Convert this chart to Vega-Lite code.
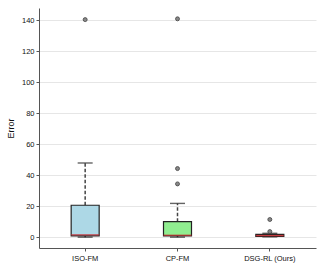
{
  "$schema": "https://vega.github.io/schema/vega-lite/v6.json",
  "autosize": {"type": "none"},
  "width": 277,
  "height": 240,
  "padding": {"left": 39, "top": 8, "right": 8, "bottom": 22},
  "background": "white",
  "config": {
    "view": {"stroke": null},
    "font": "Liberation Sans",
    "axis": {
      "labelFont": "Liberation Sans",
      "titleFont": "Liberation Sans",
      "labelFontSize": 7.5,
      "labelColor": "#111",
      "domainColor": "#555",
      "tickColor": "#555",
      "tickSize": 3,
      "labelPadding": 2,
      "gridColor": "#e6e6e6",
      "titleFontWeight": "normal",
      "titleFontSize": 9,
      "titleColor": "#111"
    }
  },
  "datasets": {
    "summary": [
      {"group": "ISO-FM", "lower": 0, "q1": 0.8, "median": 1.5, "q3": 20.6, "upper": 47.9},
      {"group": "CP-FM", "lower": 0, "q1": 0.8, "median": 1.2, "q3": 10.0, "upper": 21.8},
      {"group": "DSG-RL (Ours)", "lower": 0.2, "q1": 0.5, "median": 1.0, "q3": 1.8, "upper": 2.5}
    ],
    "outliers": [
      {"group": "ISO-FM", "value": 140.5},
      {"group": "CP-FM", "value": 141},
      {"group": "CP-FM", "value": 44.3},
      {"group": "CP-FM", "value": 34.4},
      {"group": "DSG-RL (Ours)", "value": 11.4},
      {"group": "DSG-RL (Ours)", "value": 3.6}
    ]
  },
  "encoding": {
    "x": {
      "field": "group",
      "type": "nominal",
      "sort": ["ISO-FM", "CP-FM", "DSG-RL (Ours)"],
      "scale": {"domain": ["ISO-FM", "CP-FM", "DSG-RL (Ours)"], "paddingInner": 0, "paddingOuter": 0},
      "axis": {"title": null, "labelAngle": 0, "grid": false, "labelPadding": 3}
    }
  },
  "layer": [
    {
      "data": {"name": "summary"},
      "mark": {"type": "rule", "strokeDash": [3.5, 2], "strokeWidth": 1.5, "color": "#444"},
      "encoding": {
        "y": {"field": "q3", "type": "quantitative", "scale": {"domain": [-7, 148], "nice": false, "zero": false},
              "axis": {"title": "Error", "values": [0, 20, 40, 60, 80, 100, 120, 140], "grid": true, "titlePadding": 6, "labelOverlap": false}},
        "y2": {"field": "upper"}
      }
    },
    {
      "data": {"name": "summary"},
      "mark": {"type": "rule", "strokeDash": [3.5, 2], "strokeWidth": 1.5, "color": "#444"},
      "encoding": {
        "y": {"field": "lower", "type": "quantitative", "scale": {"domain": [-7, 148], "nice": false, "zero": false},
              "axis": {"title": "Error", "values": [0, 20, 40, 60, 80, 100, 120, 140], "grid": true, "titlePadding": 6, "labelOverlap": false}},
        "y2": {"field": "q1"}
      }
    },
    {
      "data": {"name": "summary"},
      "mark": {"type": "tick", "size": 15, "thickness": 1.4, "color": "#222"},
      "encoding": {"y": {"field": "upper", "type": "quantitative", "scale": {"domain": [-7, 148], "nice": false, "zero": false},
              "axis": {"title": "Error", "values": [0, 20, 40, 60, 80, 100, 120, 140], "grid": true, "titlePadding": 6, "labelOverlap": false}}}
    },
    {
      "data": {"name": "summary"},
      "mark": {"type": "tick", "size": 15, "thickness": 1.4, "color": "#222"},
      "encoding": {"y": {"field": "lower", "type": "quantitative", "scale": {"domain": [-7, 148], "nice": false, "zero": false},
              "axis": {"title": "Error", "values": [0, 20, 40, 60, 80, 100, 120, 140], "grid": true, "titlePadding": 6, "labelOverlap": false}}}
    },
    {
      "data": {"name": "summary"},
      "mark": {"type": "bar", "width": 28, "stroke": "#222", "strokeWidth": 1.2},
      "encoding": {
        "y": {"field": "q1", "type": "quantitative", "scale": {"domain": [-7, 148], "nice": false, "zero": false},
              "axis": {"title": "Error", "values": [0, 20, 40, 60, 80, 100, 120, 140], "grid": true, "titlePadding": 6, "labelOverlap": false}},
        "y2": {"field": "q3"},
        "fill": {
          "field": "group",
          "type": "nominal",
          "scale": {"domain": ["ISO-FM", "CP-FM", "DSG-RL (Ours)"], "range": ["#add8e6", "#90ee90", "#f08080"]},
          "legend": null
        }
      }
    },
    {
      "data": {"name": "summary"},
      "mark": {"type": "tick", "size": 28, "thickness": 1.5, "color": "#c8282d"},
      "encoding": {"y": {"field": "median", "type": "quantitative", "scale": {"domain": [-7, 148], "nice": false, "zero": false},
              "axis": {"title": "Error", "values": [0, 20, 40, 60, 80, 100, 120, 140], "grid": true, "titlePadding": 6, "labelOverlap": false}}}
    },
    {
      "data": {"name": "outliers"},
      "mark": {"type": "point", "filled": true, "size": 16, "fill": "#888", "stroke": "#444", "strokeWidth": 0.8, "opacity": 1},
      "encoding": {"y": {"field": "value", "type": "quantitative", "scale": {"domain": [-7, 148], "nice": false, "zero": false},
              "axis": {"title": "Error", "values": [0, 20, 40, 60, 80, 100, 120, 140], "grid": true, "titlePadding": 6, "labelOverlap": false}}}
    }
  ]
}
